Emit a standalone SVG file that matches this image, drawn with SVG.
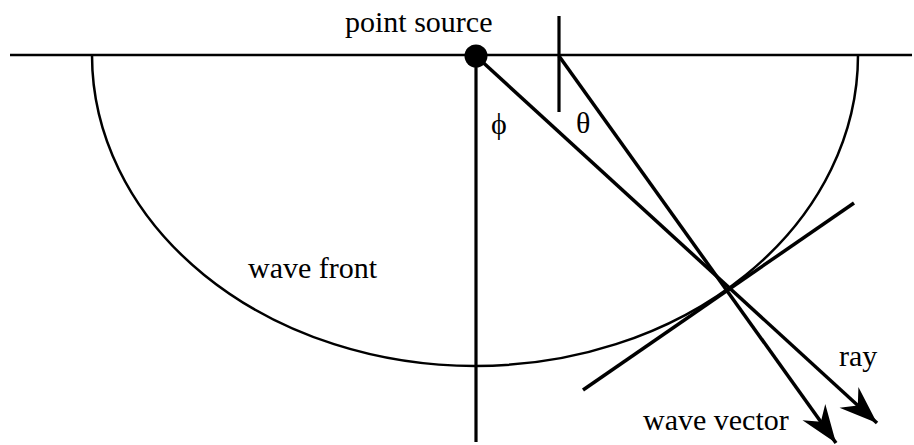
<svg xmlns="http://www.w3.org/2000/svg" width="914" height="445" viewBox="0 0 914 445">
<style>
.t{font-family:"Liberation Serif","Times New Roman",serif;font-size:30px;fill:#000}
.ln{stroke:#000;fill:none;stroke-linecap:butt}
</style>
<defs>
<marker id="ah" viewBox="-39 -15 41 30" refX="0" refY="0" markerWidth="41" markerHeight="30" markerUnits="userSpaceOnUse" orient="auto">
<path d="M0,0 L-38,-14 L-26,0 L-38,14 Z" fill="#000"/>
</marker>
</defs>
<rect width="914" height="445" fill="#fff"/>
<g id="surface">
<line class="ln" x1="10" y1="55" x2="912" y2="55" stroke-width="2.5"/>
</g>
<g id="wave-front">
<path class="ln" d="M92,55 A383,311 0 0 0 858,55" stroke-width="2.5"/>
<text class="t" x="248" y="278">wave front</text>
</g>
<g id="normal-lines">
<line class="ln" x1="476" y1="56" x2="476" y2="442" stroke-width="3.2"/>
<line class="ln" x1="559" y1="16" x2="559" y2="112" stroke-width="3.2"/>
</g>
<g id="connectors">
<line class="ln" x1="476" y1="56" x2="877" y2="423" stroke-width="3.5" marker-end="url(#ah)"/>
<line class="ln" x1="559" y1="56" x2="836" y2="443" stroke-width="3.5" marker-end="url(#ah)"/>
<line class="ln" x1="583" y1="390" x2="854" y2="203" stroke-width="3.5" stroke-linecap="round"/>
</g>
<g id="point-source">
<circle cx="476" cy="56" r="11.5" fill="#000"/>
<text class="t" x="345" y="32">point source</text>
</g>
<g id="angles">
<text class="t" x="491" y="134">ϕ</text>
<text class="t" x="576" y="133">θ</text>
</g>
<g id="labels">
<text class="t" x="839" y="366">ray</text>
<text class="t" x="643" y="430">wave vector</text>
</g>
</svg>
